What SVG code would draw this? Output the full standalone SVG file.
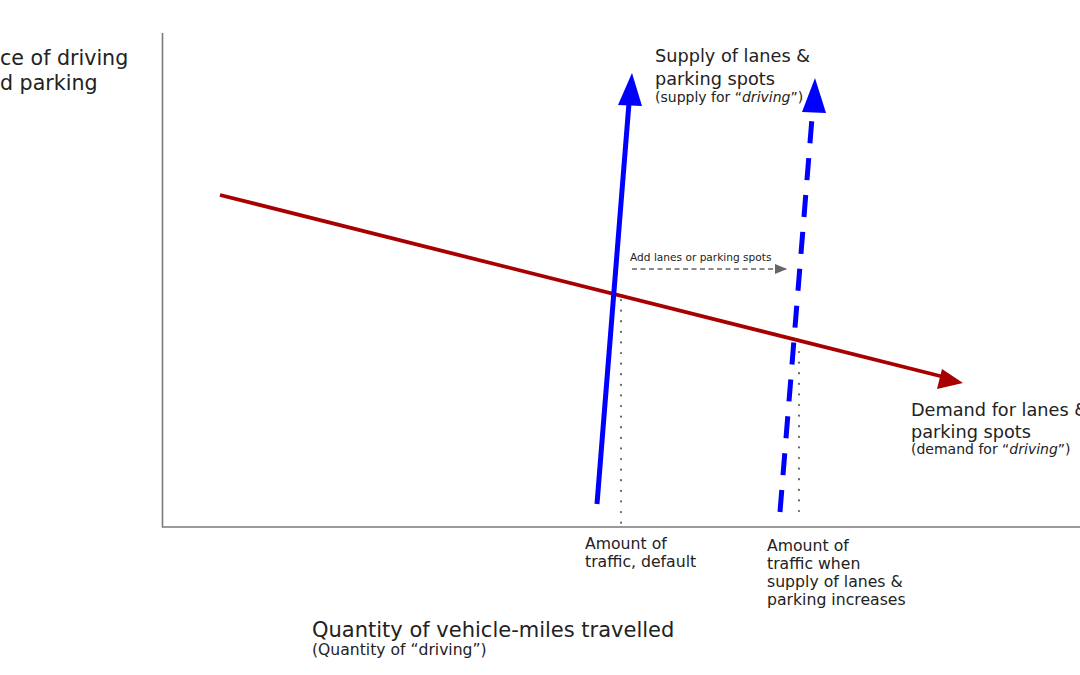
<svg xmlns="http://www.w3.org/2000/svg" width="1080" height="675" viewBox="0 0 1080 675">
  <style>
    text { font-family: "DejaVu Sans", Verdana, sans-serif; fill: #222; }
    .lbl { font-size: 17.7px; }
    .sub { font-size: 14px; }
    .amt { font-size: 15.7px; }
    .axis { stroke: #7a7a7a; stroke-width: 1.6; fill: none; }
    .dot { stroke: #666; stroke-width: 2.2; stroke-dasharray: 0.1 10.5; stroke-linecap: round; fill: none; }
  </style>
  <defs>
    <marker id="gray-arrow" markerWidth="12" markerHeight="10" refX="11" refY="5" orient="auto" markerUnits="userSpaceOnUse">
      <path d="M0,0 L12,5 L0,10 Z" fill="#666"/>
    </marker>
  </defs>
  <rect width="1080" height="675" fill="#fff"/>

  <g id="axes">
    <path class="axis" d="M162.5,33 V527 H1080"/>
  </g>

  <g id="connectors">
    <!-- demand line -->
    <line x1="220" y1="195" x2="944" y2="377" stroke="#a80000" stroke-width="3.8"/>
    <polygon points="963,383 937,389 942,369" fill="#a80000"/>
    <!-- supply solid -->
    <line x1="597" y1="504" x2="629" y2="103" stroke="#0000ff" stroke-width="5"/>
    <polygon points="632,73 642,106 618,105" fill="#0000ff"/>
    <!-- supply dashed -->
    <line x1="780" y1="512" x2="812" y2="118" stroke="#0000ff" stroke-width="5" stroke-dasharray="22 15"/>
    <polygon points="815,78 826,113 802,112" fill="#0000ff"/>
    <!-- dotted drop lines -->
    <line class="dot" x1="621" y1="300" x2="621" y2="526"/>
    <line class="dot" x1="799" y1="352" x2="799" y2="520"/>
    <!-- add lanes arrow -->
    <line x1="632" y1="269" x2="786" y2="269" stroke="#666" stroke-width="1.3" stroke-dasharray="5 3.5" marker-end="url(#gray-arrow)"/>
  </g>

  <g id="y-label">
    <text x="0" y="65" style="font-size:20.6px">ce of driving</text>
    <text x="0" y="90" style="font-size:20.6px">d parking</text>
  </g>

  <g id="supply-label">
    <text class="lbl" x="655" y="62">Supply of lanes &amp;</text>
    <text class="lbl" x="655" y="85">parking spots</text>
    <text class="sub" x="655" y="102">(supply for “<tspan font-style="italic">driving</tspan>”)</text>
  </g>

  <g id="add-label">
    <text x="630" y="261" style="font-size:10.6px">Add lanes or parking spots</text>
  </g>

  <g id="demand-label">
    <text class="lbl" x="911" y="416">Demand for lanes &amp;</text>
    <text class="lbl" x="911" y="438">parking spots</text>
    <text class="sub" x="911" y="454">(demand for “<tspan font-style="italic">driving</tspan>”)</text>
  </g>

  <g id="amount-default">
    <text class="amt" x="585" y="549">Amount of</text>
    <text class="amt" x="585" y="567">traffic, default</text>
  </g>

  <g id="amount-increased">
    <text class="amt" x="767" y="551">Amount of</text>
    <text class="amt" x="767" y="569">traffic when</text>
    <text class="amt" x="767" y="587">supply of lanes &amp;</text>
    <text class="amt" x="767" y="605">parking increases</text>
  </g>

  <g id="x-label">
    <text x="312" y="637" style="font-size:21px">Quantity of vehicle-miles travelled</text>
    <text x="312" y="655" style="font-size:15.6px">(Quantity of “driving”)</text>
  </g>
</svg>
